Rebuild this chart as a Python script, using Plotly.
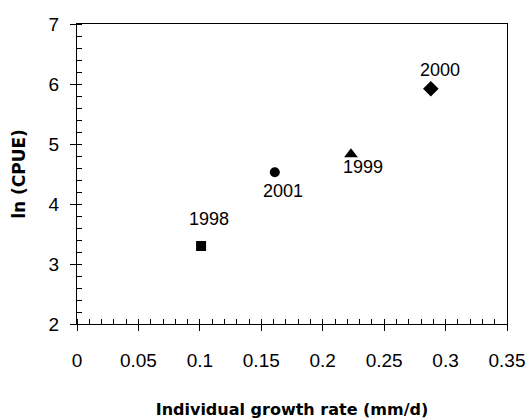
import plotly.graph_objects as go

years = ["1998", "2001", "1999", "2000"]
growth = [0.101, 0.161, 0.223, 0.288]
ln_cpue = [3.30, 4.53, 4.83, 5.92]
symbols = ["square", "circle", "triangle-up", "diamond"]
sizes = [10, 10, 12, 12]
label_shift = [(8, 27), (8, -19), (12, -13), (9, 19)]

fig = go.Figure()
fig.add_trace(go.Scatter(
    x=growth, y=ln_cpue, mode="markers",
    marker=dict(symbol=symbols, size=sizes, color="#000000", opacity=1,
                line=dict(width=0, color="#000000")),
    showlegend=False, cliponaxis=False,
))

for xv, yv, t, (dx, dy) in zip(growth, ln_cpue, years, label_shift):
    fig.add_annotation(x=xv, y=yv, text=t, showarrow=False, xshift=dx, yshift=dy,
                       font=dict(family="Liberation Sans, Arial", size=18, color="black"))

axis_common = dict(
    showline=True, linecolor="black", linewidth=1, mirror=True,
    showgrid=False, zeroline=False, automargin=False,
    ticks="outside", ticklen=6, tickcolor="black", tickwidth=1,
    tickfont=dict(family="Liberation Sans, Arial", size=19, color="black"),
)

fig.update_xaxes(
    range=[0, 0.35], dtick=0.05, tick0=0, tickformat="~g",
    minor=dict(dtick=0.01, ticks="inside", ticklen=5, tickcolor="black", tickwidth=1, showgrid=False),
    ticklabelstandoff=13,
    title=dict(text="Individual growth rate (mm/d)", standoff=34,
               font=dict(family="DejaVu Sans", size=16, color="black", weight="bold")),
    **axis_common,
)
fig.update_yaxes(
    range=[2, 7], dtick=1, tick0=2,
    minor=dict(dtick=0.2, ticks="inside", ticklen=5, tickcolor="black", tickwidth=1, showgrid=False),
    ticklabelstandoff=7,
    title=dict(text="ln (CPUE)", standoff=18,
               font=dict(family="DejaVu Sans", size=17, color="black", weight="bold")),
    **axis_common,
)

fig.update_layout(
    template="none",
    width=530, height=420,
    margin=dict(l=77, r=23, t=24, b=96),
    paper_bgcolor="white", plot_bgcolor="white",
)

fig.write_html("out.html")
